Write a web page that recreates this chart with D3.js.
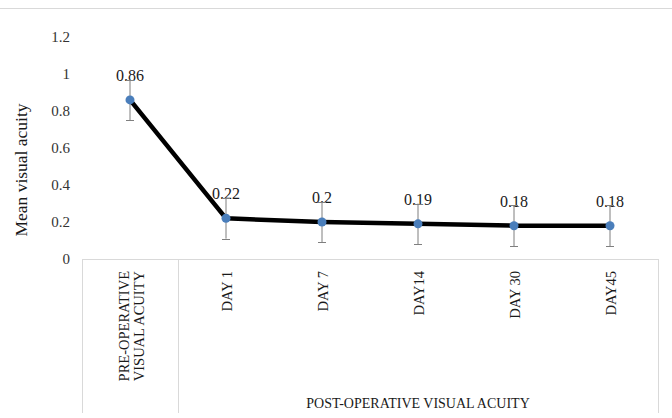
<!DOCTYPE html>
<html>
<head>
<meta charset="utf-8">
<script src="https://cdn.jsdelivr.net/npm/d3@7/dist/d3.min.js"></script>
<style>
  html, body { margin: 0; padding: 0; background: #fff; }
  svg { display: block; }
</style>
</head>
<body>
<svg id="chart" width="672" height="418"></svg>
<script>
// Mean visual acuity before and after surgery
const categories = ["PRE-OPERATIVE|VISUAL ACUITY", "DAY 1", "DAY 7", "DAY14", "DAY 30", "DAY45"];
const groups = ["", "POST-OPERATIVE VISUAL ACUITY"];
const groupOf = [0, 1, 1, 1, 1, 1];
const meanValues = [0.86, 0.22, 0.2, 0.19, 0.18, 0.18];
const errorValues = [0.11, 0.11, 0.11, 0.11, 0.11, 0.11];
const yTicks = [0, 0.2, 0.4, 0.6, 0.8, 1, 1.2];
const yTitle = "Mean visual acuity";

const FONT = "Liberation Serif";
const svg = d3.select("#chart").style("font-family", FONT);
const W = 672, H = 418;
const plot = { left: 82, right: 658, top: 37, bottom: 259 };

// chart frame edge along the top
svg.append("line")
  .attr("x1", 0).attr("x2", W).attr("y1", 8.5).attr("y2", 8.5)
  .attr("stroke", "#d9d9d9").attr("stroke-width", 1);

const x = d3.scaleBand().domain(categories).range([plot.left, plot.right]).padding(0);
const y = d3.scaleLinear().domain([0, 1.2]).range([plot.bottom, plot.top]);

// y axis: labels only
const yAxis = svg.append("g")
  .attr("transform", `translate(${plot.left - 12},0)`)
  .call(d3.axisLeft(y).tickValues(yTicks).tickSize(0).tickPadding(0).tickFormat(d3.format("~g")));
yAxis.attr("font-family", null).attr("font-size", null);
yAxis.select(".domain").remove();
yAxis.selectAll("text")
  .style("font-family", FONT)
  .style("font-size", "15px")
  .attr("fill", "#333");

// y axis title
svg.append("text")
  .attr("transform", `translate(27,${(plot.top + plot.bottom) / 2 + 22}) rotate(-90)`)
  .attr("text-anchor", "middle")
  .style("font-family", FONT)
  .style("font-size", "17.5px")
  .attr("fill", "#1a1a1a")
  .text(yTitle);

// multi-level category axis
const axisBottom = 413;
const gridColor = "#d9d9d9";
svg.append("line")
  .attr("x1", plot.left).attr("x2", plot.right)
  .attr("y1", plot.bottom + 0.5).attr("y2", plot.bottom + 0.5)
  .attr("stroke", gridColor);

// group boundaries
const boundaries = [];
categories.forEach((c, i) => {
  if (i === 0 || groupOf[i] !== groupOf[i - 1]) boundaries.push(x(c));
});
boundaries.push(x(categories[categories.length - 1]) + x.bandwidth());
boundaries.forEach(bx => {
  svg.append("line")
    .attr("x1", Math.round(bx) + 0.5).attr("x2", Math.round(bx) + 0.5)
    .attr("y1", plot.bottom).attr("y2", axisBottom)
    .attr("stroke", gridColor);
});

// category labels, rotated
categories.forEach(c => {
  const lines = c.split("|");
  const cx = x(c) + x.bandwidth() / 2;
  const lh = 15;
  lines.forEach((ln, k) => {
    const lx = cx + (k - (lines.length - 1) / 2) * lh + 6;
    svg.append("text")
      .attr("transform", `translate(${lx},${plot.bottom + 12}) rotate(-90)`)
      .attr("text-anchor", "end")
      .style("font-family", FONT)
      .style("font-size", "14.5px")
      .attr("fill", "#1a1a1a")
      .text(ln);
  });
});

// group labels
groups.forEach((g, gi) => {
  if (!g) return;
  const idx = categories.filter((c, i) => groupOf[i] === gi);
  const x0 = x(idx[0]);
  const x1 = x(idx[idx.length - 1]) + x.bandwidth();
  svg.append("text")
    .attr("x", (x0 + x1) / 2)
    .attr("y", 408)
    .attr("text-anchor", "middle")
    .style("font-family", FONT)
    .style("font-size", "14px")
    .attr("fill", "#1a1a1a")
    .text(g);
});

const pts = categories.map((c, i) => ({
  cx: x(c) + x.bandwidth() / 2,
  v: meanValues[i],
  e: errorValues[i]
}));

// data labels (under the error bars)
svg.append("g").selectAll("text")
  .data(pts).join("text")
  .attr("x", d => d.cx)
  .attr("y", d => y(d.v) - 19)
  .attr("text-anchor", "middle")
  .style("font-family", FONT)
  .style("font-size", "16px")
  .attr("fill", "#1a1a1a")
  .text(d => d3.format("~g")(d.v));

// error bars
const capW = 4;
const eb = svg.append("g").attr("stroke", "#7f7f7f").attr("stroke-width", 1);
pts.forEach(p => {
  eb.append("line").attr("x1", p.cx).attr("x2", p.cx)
    .attr("y1", y(p.v + p.e)).attr("y2", y(p.v - p.e));
  [p.v + p.e, p.v - p.e].forEach(v => {
    eb.append("line").attr("x1", p.cx - capW).attr("x2", p.cx + capW)
      .attr("y1", Math.round(y(v)) + 0.5).attr("y2", Math.round(y(v)) + 0.5);
  });
});

// mean line
svg.append("path")
  .datum(pts)
  .attr("fill", "none")
  .attr("stroke", "#000")
  .attr("stroke-width", 4.5)
  .attr("stroke-linejoin", "round")
  .attr("d", d3.line().x(d => d.cx).y(d => y(d.v)));

// markers
svg.append("g").selectAll("circle")
  .data(pts).join("circle")
  .attr("cx", d => d.cx)
  .attr("cy", d => y(d.v))
  .attr("r", 4.5)
  .attr("fill", "#4a7ebb");
</script>
</body>
</html>
